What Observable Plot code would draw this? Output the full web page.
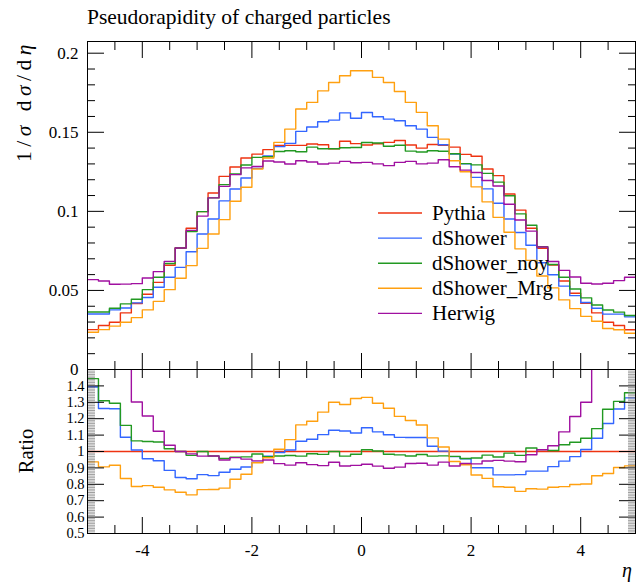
<!DOCTYPE html>
<html>
<head>
<meta charset="utf-8">
<script src="https://cdn.jsdelivr.net/npm/d3@7"></script>
<script src="https://cdn.jsdelivr.net/npm/@observablehq/plot@0.6"></script>
<style>
  html, body { margin: 0; padding: 0; background: #fff; }
  #wrap { position: relative; width: 636px; height: 584px; overflow: hidden; }
  #wrap > svg { position: absolute; left: 0; }
</style>
</head>
<body>
<div id="wrap"></div>
<script>
// ---- data ----
const binEdges = [-5, -4.8, -4.6, -4.4, -4.2, -4, -3.8, -3.6, -3.4, -3.2, -3, -2.8, -2.6, -2.4, -2.2, -2, -1.8, -1.6, -1.4, -1.2, -1,
  -0.8, -0.6, -0.4, -0.2, 0, 0.2, 0.4, 0.6, 0.8, 1, 1.2, 1.4, 1.6, 1.8, 2, 2.2, 2.4, 2.6, 2.8, 3,
  3.2, 3.4, 3.6, 3.8, 4, 4.2, 4.4, 4.6, 4.8, 5];

const seriesNames = ["Pythia", "dShower", "dShower_noy", "dShower_Mrg", "Herwig"];
const seriesColors = ["#ee3311", "#3366ff", "#229922", "#ffa010", "#a010a0"];

const pythia = [0.0252, 0.0278, 0.0299, 0.0358, 0.0417, 0.0476, 0.0551, 0.0659, 0.0768, 0.0893,
  0.0998, 0.1116, 0.1221, 0.1280, 0.1337, 0.1362, 0.1390, 0.1417, 0.1417, 0.1417,
  0.1426, 0.1421, 0.1396, 0.1443, 0.1428, 0.1420, 0.1427, 0.1436, 0.1448, 0.1420,
  0.1400, 0.1423, 0.1418, 0.1406, 0.1360, 0.1348, 0.1268, 0.1226, 0.1110, 0.1008,
  0.0893, 0.0767, 0.0660, 0.0560, 0.0482, 0.0419, 0.0358, 0.0299, 0.0278, 0.0251];

const dShower = [0.0351, 0.0351, 0.0377, 0.0389, 0.0421, 0.0455, 0.0520, 0.0583, 0.0646, 0.0745,
  0.0857, 0.0952, 0.1066, 0.1141, 0.1211, 0.1272, 0.1350, 0.1409, 0.1430, 0.1506,
  0.1533, 0.1567, 0.1577, 0.1623, 0.1589, 0.1625, 0.1598, 0.1583, 0.1573, 0.1541,
  0.1520, 0.1468, 0.1421, 0.1362, 0.1300, 0.1215, 0.1142, 0.1051, 0.0952, 0.0866,
  0.0786, 0.0675, 0.0599, 0.0527, 0.0467, 0.0424, 0.0387, 0.0350, 0.0350, 0.0333];

const dShowerNoy = [0.0364, 0.0364, 0.0387, 0.0415, 0.0444, 0.0505, 0.0583, 0.0670, 0.0768, 0.0872,
  0.0998, 0.1085, 0.1169, 0.1236, 0.1293, 0.1341, 0.1345, 0.1378, 0.1383, 0.1377,
  0.1406, 0.1396, 0.1396, 0.1402, 0.1404, 0.1435, 0.1432, 0.1412, 0.1418, 0.1381,
  0.1375, 0.1383, 0.1380, 0.1364, 0.1302, 0.1294, 0.1240, 0.1185, 0.1099, 0.0984,
  0.0912, 0.0776, 0.0664, 0.0583, 0.0509, 0.0453, 0.0408, 0.0376, 0.0363, 0.0341];

const dShowerMrg = [0.0236, 0.0252, 0.0274, 0.0299, 0.0328, 0.0377, 0.0431, 0.0505, 0.0577, 0.0657,
  0.0766, 0.0857, 0.0948, 0.1064, 0.1152, 0.1268, 0.1337, 0.1436, 0.1520, 0.1647,
  0.1689, 0.1762, 0.1815, 0.1857, 0.1889, 0.1889, 0.1847, 0.1815, 0.1758, 0.1689,
  0.1626, 0.1541, 0.1457, 0.1320, 0.1250, 0.1155, 0.1060, 0.0962, 0.0868, 0.0763,
  0.0690, 0.0591, 0.0516, 0.0440, 0.0385, 0.0336, 0.0305, 0.0259, 0.0251, 0.0229];

const herwig = [0.0568, 0.0560, 0.0539, 0.0540, 0.0543, 0.0579, 0.0619, 0.0684, 0.0768, 0.0880,
  0.0970, 0.1085, 0.1158, 0.1232, 0.1275, 0.1284, 0.1318, 0.1312, 0.1299, 0.1320,
  0.1312, 0.1299, 0.1305, 0.1316, 0.1307, 0.1310, 0.1300, 0.1289, 0.1310, 0.1316,
  0.1300, 0.1305, 0.1326, 0.1282, 0.1261, 0.1246, 0.1195, 0.1160, 0.1045, 0.0945,
  0.0875, 0.0775, 0.0683, 0.0627, 0.0585, 0.0545, 0.0541, 0.0545, 0.0562, 0.0583];

const xTickLabels = [-4, -2, 0, 2, 4];
const mainYTickLabels = [0, 0.05, 0.1, 0.15, 0.2];
const ratioYTickLabels = [0.5, 0.6, 0.7, 0.8, 0.9, 1, 1.1, 1.2, 1.3, 1.4];

// ---- derived tables ----
const seriesValues = [pythia, dShower, dShowerNoy, dShowerMrg, herwig];
function stepRows(name, vals) {
  const rows = vals.map((v, i) => ({series: name, x: binEdges[i], y: v}));
  rows.push({series: name, x: binEdges[binEdges.length - 1], y: vals[vals.length - 1]});
  return rows;
}
const mainRows = seriesNames.flatMap((n, k) => stepRows(n, seriesValues[k]));
const ratioRows = seriesNames.flatMap((n, k) => stepRows(n, seriesValues[k].map((v, i) => v / pythia[i])));

// tick positions (decoration)
const xMinor = d3.range(-4.5, 5, 0.5).filter(v => Math.abs(v % 2) > 1e-9);
const mainYMinor = d3.range(1, 21).map(i => i / 100).filter(v => Math.round(v * 100) % 5 !== 0);
const ratioYMinor = d3.range(51, 150).map(i => i / 100).filter(v => Math.round(v * 100) % 10 !== 0);

const serif = "'Liberation Serif', 'Times New Roman', serif";
const color = {domain: seriesNames, range: seriesColors};
const fmt = d => String(d);
const blank = () => "";

function tickAxes(yMajor, yMinor, xTopMajorSize, minorStyle) {
  const ms = minorStyle || {stroke: "#000", strokeWidth: 1};
  return [
    Plot.axisX(xTickLabels, {anchor: "bottom", tickSize: -16, tickFormat: blank, label: null, stroke: "#000"}),
    Plot.axisX(xMinor, {anchor: "bottom", tickSize: -8, tickFormat: blank, label: null, stroke: "#000"}),
    Plot.axisX(xTickLabels, {anchor: "top", tickSize: -xTopMajorSize, tickFormat: blank, label: null, stroke: "#000"}),
    Plot.axisX(xMinor, {anchor: "top", tickSize: -8, tickFormat: blank, label: null, stroke: "#000"}),
    Plot.axisY(yMajor, {anchor: "left", tickSize: -17, tickFormat: blank, label: null, stroke: "#000"}),
    Plot.axisY(yMinor, {anchor: "left", tickSize: -8, tickFormat: blank, label: null, ...ms}),
    Plot.axisY(yMajor, {anchor: "right", tickSize: -17, tickFormat: blank, label: null, stroke: "#000"}),
    Plot.axisY(yMinor, {anchor: "right", tickSize: -8, tickFormat: blank, label: null, ...ms})
  ];
}

const mainPlot = Plot.plot({
  width: 636, height: 369,
  marginTop: 41, marginBottom: 0, marginLeft: 87, marginRight: 1,
  x: {domain: [-5, 5]},
  y: {domain: [0, 0.2074]},
  color,
  style: {fontFamily: serif, fontSize: "17px", color: "#000", background: "transparent", overflow: "visible"},
  marks: [
    Plot.line(mainRows, {x: "x", y: "y", z: "series", stroke: "series", curve: "step-after", strokeWidth: 1.4, clip: true}),
    ...tickAxes(mainYTickLabels, mainYMinor, 16),
    Plot.axisY(mainYTickLabels, {anchor: "left", tickSize: 0, tickPadding: 9, tickFormat: fmt, label: null, fontSize: 17}),
    Plot.frame({stroke: "#000", strokeWidth: 1})
  ]
});

const ratioPlot = Plot.plot({
  width: 636, height: 215,
  marginTop: 0, marginBottom: 51, marginLeft: 87, marginRight: 1,
  x: {domain: [-5, 5]},
  y: {domain: [0.5, 1.5]},
  color,
  style: {fontFamily: serif, fontSize: "17px", color: "#000", background: "transparent", overflow: "visible"},
  marks: [
    Plot.line(ratioRows, {x: "x", y: "y", z: "series", stroke: "series", curve: "step-after", strokeWidth: 1.4, clip: true}),
    ...tickAxes(ratioYTickLabels.filter(v => v !== 0.5), ratioYMinor, 8, {stroke: "#777", strokeWidth: 0.7}),
    Plot.axisY(ratioYTickLabels, {anchor: "left", tickSize: 0, tickPadding: 3, tickFormat: fmt, label: null, fontSize: 14.5}),
    Plot.axisX(xTickLabels, {anchor: "bottom", tickSize: 0, tickPadding: 10, tickFormat: fmt, label: null, fontSize: 17}),
    Plot.frame({stroke: "#000", strokeWidth: 1})
  ]
});

const wrap = document.getElementById("wrap");
mainPlot.style.top = "0px";
ratioPlot.style.top = "369px";
wrap.appendChild(mainPlot);
wrap.appendChild(ratioPlot);

// ---- overlay: title, axis titles, legend ----
const ov = d3.select(wrap).append("svg")
  .attr("width", 636).attr("height", 584)
  .style("top", "0px").style("pointer-events", "none")
  .style("font-family", serif);

ov.append("text").attr("x", 87).attr("y", 24).attr("font-size", 21.5)
  .text("Pseudorapidity of charged particles");

const yl = ov.append("text").attr("transform", "translate(31,40) rotate(-90)")
  .attr("text-anchor", "end").attr("font-size", 21.5).attr("letter-spacing", "4.5px");
yl.append("tspan").text("1/");
yl.append("tspan").attr("font-style", "italic").text("σ");
yl.append("tspan").text(" d");
yl.append("tspan").attr("font-style", "italic").text("σ");
yl.append("tspan").text("/d");
yl.append("tspan").attr("font-style", "italic").text("η");

ov.append("text").attr("transform", "translate(33,451) rotate(-90)")
  .attr("text-anchor", "middle").attr("font-size", 20.5).text("Ratio");

ov.append("text").attr("x", 632).attr("y", 577).attr("text-anchor", "end")
  .attr("font-size", 20).attr("font-style", "italic").text("η");

const leg = ov.append("g");
seriesNames.forEach((n, k) => {
  const y = 213 + k * 25.1;
  leg.append("line").attr("x1", 378).attr("x2", 422).attr("y1", y).attr("y2", y)
    .attr("stroke", seriesColors[k]).attr("stroke-width", 1.4);
  leg.append("text").attr("x", 432).attr("y", y).attr("dy", "0.33em")
    .attr("font-size", 21).text(n);
});
</script>
</body>
</html>
